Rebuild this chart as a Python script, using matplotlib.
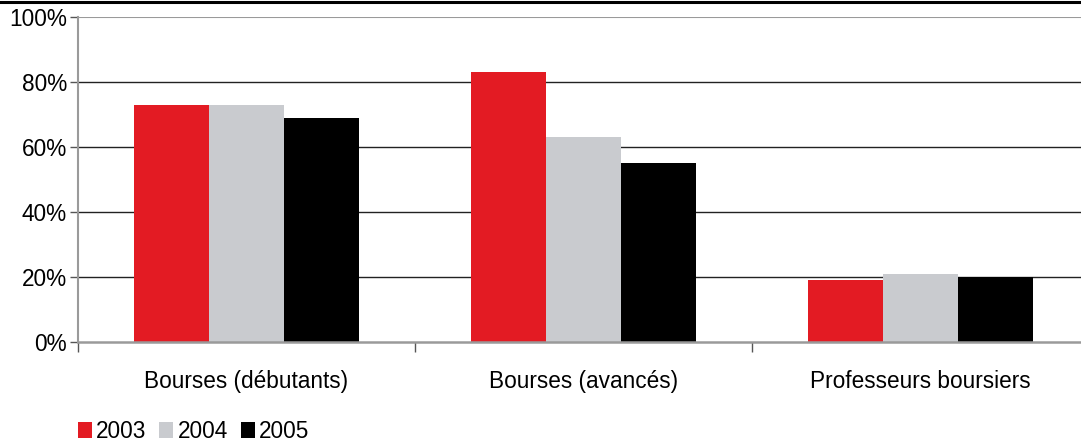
import numpy as np
import matplotlib.pyplot as plt
from matplotlib.lines import Line2D
from matplotlib.ticker import FixedLocator

plt.rcParams['font.family'] = ['Liberation Sans', 'DejaVu Sans']

categories = ['Bourses (débutants)', 'Bourses (avancés)', 'Professeurs boursiers']
years = ['2003', '2004', '2005']
v2003 = [73, 83, 19]
v2004 = [73, 63, 21]
v2005 = [69, 55, 20]
colors = ['#e31b23', '#c9cbcf', '#000000']
fs = 16.3

fig = plt.figure(figsize=(10.81, 4.43), dpi=100)
ax = fig.add_axes([78 / 1081, 101 / 443, 1011 / 1081, 325 / 443])

x = np.arange(len(categories)) + 0.5
w = 0.222
for i, (vals, c, yr) in enumerate(zip([v2003, v2004, v2005], colors, years)):
    ax.bar(x + (i - 1) * w, vals, width=w, color=c, label=yr, zorder=3)

ax.set_xlim(0, 3)
ax.set_ylim(0, 100)

# grid: dark lines inside, grey at top and bottom
for yv in [20, 40, 60, 80]:
    ax.axhline(yv, color='#222222', lw=1.0, zorder=1)
ax.axhline(100, color='#9a9a9a', lw=1.5, zorder=1)

for s in ['top', 'right']:
    ax.spines[s].set_visible(False)
ax.spines['left'].set_color('#9a9a9a')
ax.spines['left'].set_linewidth(1.5)
ax.spines['bottom'].set_color('#9a9a9a')
ax.spines['bottom'].set_linewidth(1.8)
ax.spines['bottom'].set_zorder(4)

ax.set_yticks(range(0, 101, 20))
ax.set_yticklabels([f'{v}%' for v in range(0, 101, 20)], fontsize=fs)
ax.tick_params(axis='y', length=6, width=1, color='#555555', pad=2)

ax.set_xticks([0, 1, 2, 3])
ax.set_xticklabels([])
ax.xaxis.set_minor_locator(FixedLocator(x))
ax.set_xticklabels(categories, minor=True, fontsize=fs)
ax.tick_params(axis='x', which='major', length=7, width=1, color='#555555')
ax.tick_params(axis='x', which='minor', length=0, pad=20)

# rule across the top of the figure
fig.add_artist(Line2D([0, 1], [1 - 1.5 / 443, 1 - 1.5 / 443], color='black', lw=2.2))

fig.legend(loc='lower left', bbox_to_anchor=(78 / 1081, 0), ncol=3, frameon=False,
           fontsize=fs, handlelength=0.62, handleheight=0.75, handletextpad=0.18,
           columnspacing=0.57, borderpad=0, borderaxespad=0)

fig.savefig('out.png', dpi=100)
